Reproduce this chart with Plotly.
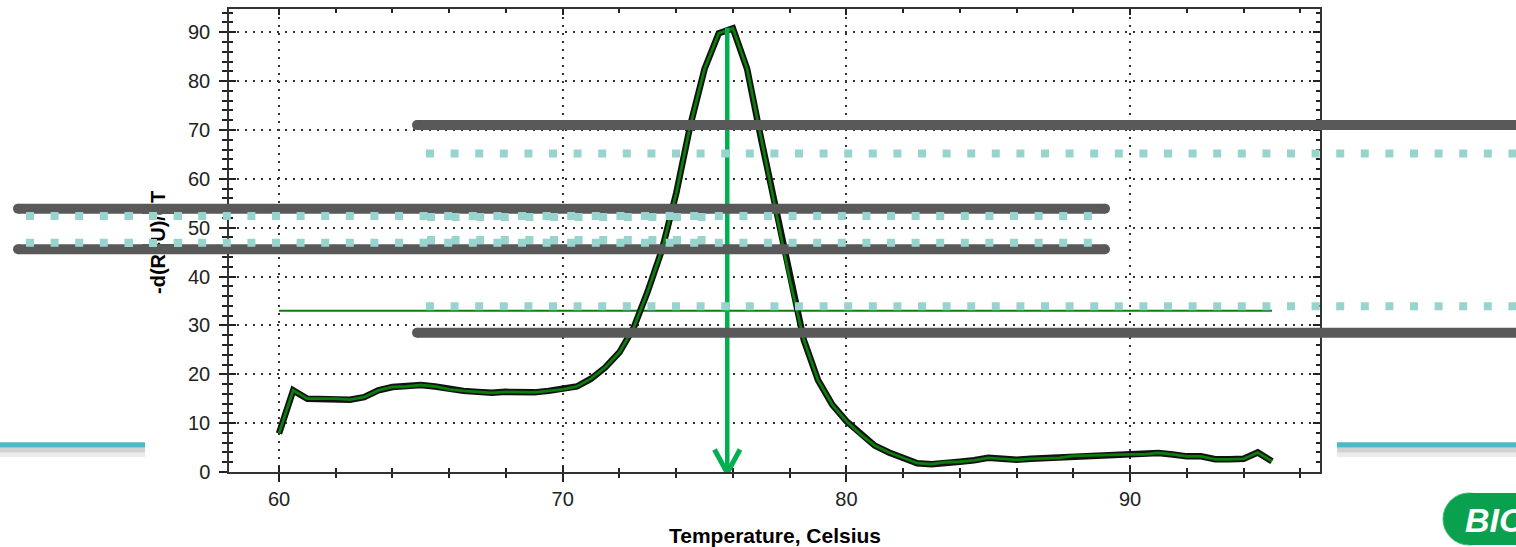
import plotly.graph_objects as go

# ---------------- data ----------------
temperature = [60.0, 60.5, 61.0, 61.5, 62.0, 62.5, 63.0, 63.5, 64.0, 64.5,
               65.0, 65.5, 66.0, 66.5, 67.0, 67.5, 68.0, 68.5, 69.0, 69.5,
               70.0, 70.5, 71.0, 71.5, 72.0, 72.5, 73.0, 73.5, 74.0, 74.5,
               75.0, 75.5, 76.0, 76.5, 77.0, 77.5, 78.0, 78.5, 79.0, 79.5,
               80.0, 80.5, 81.0, 81.5, 82.0, 82.5, 83.0, 83.5, 84.0, 84.5,
               85.0, 85.5, 86.0, 86.5, 87.0, 87.5, 88.0, 88.5, 89.0, 89.5,
               90.0, 90.5, 91.0, 91.5, 92.0, 92.5, 93.0, 93.5, 94.0, 94.5,
               95.0]
neg_drfu_dt = [7.9, 16.7, 15.0, 15.0, 15.0, 14.8, 15.3, 16.7, 17.4, 17.5,
               17.8, 17.5, 16.9, 16.6, 16.4, 16.2, 16.4, 16.3, 16.3, 16.6,
               16.9, 17.5, 19.1, 21.4, 24.5, 29.5, 37.0, 45.5, 57.0, 71.0,
               82.5, 89.8, 90.8, 82.5, 68.0, 54.0, 39.5, 27.0, 18.8, 13.8,
               10.4, 7.7, 5.4, 4.0, 2.9, 1.8, 1.6, 2.0, 2.1, 2.4,
               2.9, 2.7, 2.5, 2.7, 2.8, 2.9, 3.3, 3.4, 3.4, 3.5,
               3.6, 3.6, 3.9, 3.6, 3.2, 3.2, 2.6, 2.6, 2.7, 4.0,
               2.2]
threshold_value = 33.0
peak_temperature = 75.8
peak_value = 90.9
x_tick_values = [60, 70, 80, 90]
x_tick_labels = ["60", "70", "80", "90"]
y_tick_values = [0, 10, 20, 30, 40, 50, 60, 70, 80, 90]
y_tick_labels = ["0", "10", "20", "30", "40", "50", "60", "70", "80", "90"]

# slide overlay decorations (y in data units)
gray_bar_levels = [71.0, 53.9, 45.6, 28.5]
teal_dot_levels = [65.2, 52.4, 46.9, 33.9, 52.2, 47.5]

# ---------------- layout geometry ----------------
W, H = 1516, 547
ML, MR, MT, MB = 229, 196, 9, 75
PW = W - ML - MR
PH = H - MT - MB


def xp(px):
    return (px - ML) / PW


def yp(py):
    return (H - MB - py) / PH


FONT = "Liberation Sans, Arial, sans-serif"
GRAY = "#595959"
TEAL = "#98d4ce"
ARROW = "#00b050"

fig = go.Figure()

# threshold line
fig.add_trace(go.Scatter(x=[temperature[0], temperature[-1]],
                         y=[threshold_value, threshold_value],
                         mode="lines", line=dict(color="#0a800a", width=2),
                         hoverinfo="skip", showlegend=False))
# melt curve: black outline + green core
fig.add_trace(go.Scatter(x=temperature, y=neg_drfu_dt, mode="lines",
                         line=dict(color="#111111", width=6.5),
                         hoverinfo="skip", showlegend=False))
fig.add_trace(go.Scatter(x=temperature, y=neg_drfu_dt, mode="lines",
                         line=dict(color="#0a7d0a", width=2.8),
                         showlegend=False))
# empty trace for the overlay tick axes
fig.add_trace(go.Scatter(x=[], y=[], xaxis="x2", yaxis="y2", showlegend=False))

shapes = []
# arrow at melt peak
shapes.append(dict(type="line", xref="x", yref="y", x0=peak_temperature, x1=peak_temperature,
                   y0=peak_value, y1=0.3, line=dict(color=ARROW, width=4.5)))
for s in (-1, 1):
    shapes.append(dict(type="line", xref="x", yref="y",
                       x0=peak_temperature + s * 0.45, y0=4.6,
                       x1=peak_temperature, y1=-0.2,
                       line=dict(color=ARROW, width=5)))

# gray bars with rounded ends
bar_extents = [(412, 1540), (13, 1110), (13, 1110), (412, 1540)]
for lvl, (a, b) in zip(gray_bar_levels, bar_extents):
    shapes.append(dict(type="line", xref="paper", yref="y", x0=xp(a + 5), x1=xp(b - 5),
                       y0=lvl, y1=lvl, line=dict(color=GRAY, width=10)))
    for c in (a + 5, b - 5):
        shapes.append(dict(type="circle", xref="paper", yref="y",
                           xsizemode="pixel", ysizemode="pixel",
                           xanchor=xp(c), yanchor=lvl, x0=-5, x1=5, y0=-5, y1=5,
                           fillcolor=GRAY, line=dict(width=0)))

# teal dotted lines
teal_extents = [(426, 1540), (26, 1100), (26, 1100), (426, 1540), (427, 708), (427, 708)]
for lvl, (a, b) in zip(teal_dot_levels, teal_extents):
    shapes.append(dict(type="line", xref="paper", yref="y", x0=xp(a), x1=xp(b),
                       y0=lvl, y1=lvl, line=dict(color=TEAL, width=8, dash="8px,16.6px")))

# slide decoration stripes
for (a, b) in [(0, 145), (1337, 1540)]:
    shapes.append(dict(type="rect", xref="paper", yref="paper", x0=xp(a), x1=xp(b),
                       y0=yp(447.7), y1=yp(442.3), fillcolor="#4bbac6", line=dict(width=0)))
    shapes.append(dict(type="rect", xref="paper", yref="paper", x0=xp(a), x1=xp(b),
                       y0=yp(452.7), y1=yp(447.7), fillcolor="#d2d2d2", line=dict(width=0)))
    shapes.append(dict(type="rect", xref="paper", yref="paper", x0=xp(a), x1=xp(b),
                       y0=yp(457), y1=yp(452.7), fillcolor="#ececec", line=dict(width=0)))

# logo pill
shapes.append(dict(type="circle", xref="paper", yref="paper", x0=xp(1443), x1=xp(1495),
                   y0=yp(545), y1=yp(493), fillcolor="#0aa14e", line=dict(color="#3cbf75", width=1)))
shapes.append(dict(type="rect", xref="paper", yref="paper", x0=xp(1469), x1=xp(1540),
                   y0=yp(545), y1=yp(493), fillcolor="#0aa14e", line=dict(width=0)))

annotations = [
    dict(text="<b>-d(RFU)/dT</b>", xref="paper", yref="paper", x=xp(158), y=yp(243),
         textangle=-90, showarrow=False, xanchor="center", yanchor="middle",
         font=dict(family=FONT, size=20, color="#000")),
    dict(text="<b>Temperature, Celsius</b>", xref="paper", yref="paper", x=xp(775), y=yp(535),
         showarrow=False, xanchor="center", yanchor="middle",
         font=dict(family=FONT, size=21, color="#000")),
    dict(text="<b><i>BIO</i></b>", xref="paper", yref="paper", x=xp(1463), y=yp(520),
         showarrow=False, xanchor="left", yanchor="middle",
         font=dict(family=FONT, size=34, color="#ffffff")),
]

# the slide overlay also covers the rotated axis title: repeat the overlay there
for lvl in gray_bar_levels[1:3]:
    annotations.append(dict(text=" ", xref="paper", yref="y", x=xp(142), y=lvl,
                            xanchor="left", yanchor="middle", showarrow=False,
                            width=32, height=10, bgcolor=GRAY, borderpad=0, borderwidth=0,
                            font=dict(size=1)))
for lvl in teal_dot_levels[1:3]:
    for cx in (129, 153, 178):
        annotations.append(dict(text=" ", xref="paper", yref="y", x=xp(cx), y=lvl,
                                xanchor="center", yanchor="middle", showarrow=False,
                                width=8, height=8, bgcolor=TEAL, borderpad=0, borderwidth=0,
                                font=dict(size=1)))

XR = [60 - 50 / 28.37, 60 - 50 / 28.37 + PW / 28.37]
YR = [0, PH / 4.886]

axis_common = dict(showline=True, linecolor="#333", linewidth=1.5, zeroline=False,
                   tickcolor="#222", tickwidth=1.5, automargin=False)

fig.update_layout(
    width=W, height=H, margin=dict(l=ML, r=MR, t=MT, b=MB, pad=0),
    paper_bgcolor="white", plot_bgcolor="white", showlegend=False,
    font=dict(family=FONT, color="#222"),
    xaxis=dict(range=XR, tickvals=x_tick_values, ticktext=x_tick_labels, showticklabels=False,
               ticks="inside", ticklen=6, mirror="ticks",
               showgrid=True, gridcolor="#333", gridwidth=1.5, griddash="2px,6px",
               minor=dict(dtick=2, tick0=0, ticks="inside", ticklen=4, tickcolor="#222",
                          tickwidth=1.5, showgrid=False),
               **axis_common),
    yaxis=dict(range=YR, tickvals=y_tick_values, ticktext=y_tick_labels, showticklabels=False,
               ticks="inside", ticklen=7, mirror="ticks",
               showgrid=True, gridcolor="#333", gridwidth=1.5, griddash="2px,6px",
               minor=dict(dtick=2, tick0=0, ticks="inside", ticklen=4, tickcolor="#222",
                          tickwidth=1.5, showgrid=False),
               **axis_common),
    xaxis2=dict(range=XR, overlaying="x", anchor="y", side="bottom",
                tickvals=x_tick_values, ticktext=x_tick_labels,
                ticks="outside", ticklen=8, showgrid=False,
                tickfont=dict(family=FONT, size=20, color="#222"),
                minor=dict(dtick=2, tick0=0, ticks="outside", ticklen=4, tickcolor="#222",
                           tickwidth=1.5, showgrid=False),
                **axis_common),
    yaxis2=dict(range=YR, overlaying="y", anchor="x", side="left",
                tickvals=y_tick_values, ticktext=y_tick_labels,
                ticks="outside", ticklen=8, showgrid=False, ticklabelstandoff=5,
                tickfont=dict(family=FONT, size=20, color="#222"),
                minor=dict(dtick=2, tick0=0, ticks="outside", ticklen=5, tickcolor="#222",
                           tickwidth=1.5, showgrid=False),
                **axis_common),
    shapes=shapes,
    annotations=annotations,
)

fig.write_html("out.html", config={"displayModeBar": False},
               post_script="document.body.style.margin='0';")
